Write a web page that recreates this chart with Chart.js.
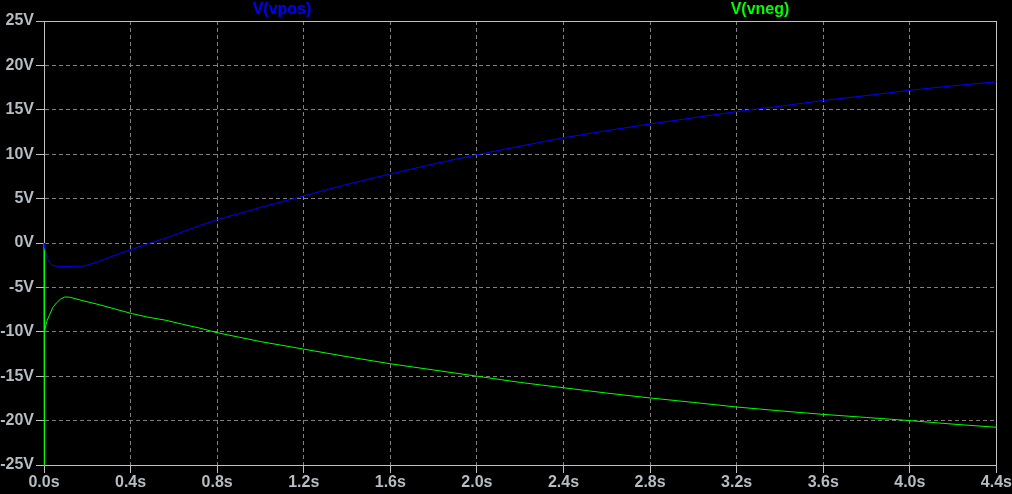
<!DOCTYPE html>
<html>
<head>
<meta charset="utf-8">
<script src="https://cdn.jsdelivr.net/npm/chart.js@4"></script>
<style>
  html, body { margin: 0; padding: 0; background: #000; }
  #wrap { width: 1012px; height: 494px; }
  canvas { background: #000; }
</style>
</head>
<body>
<div id="wrap"><canvas id="plot" width="1012" height="494"></canvas></div>
<script>
// time (s) and voltage (V)
const vposT = [0, 0.004, 0.01, 0.018, 0.028, 0.04, 0.055, 0.07, 0.12, 0.18, 0.22, 0.256, 0.33, 0.41, 0.48, 0.563, 0.64, 0.718, 0.8, 1.0, 1.2, 1.4, 1.6, 1.8, 2.0, 2.2, 2.4, 2.6, 2.8, 3.0, 3.2, 3.4, 3.6, 3.8, 4.0, 4.2, 4.4];
const vposV = [0, -0.6, -1.3, -1.9, -2.3, -2.52, -2.6, -2.63, -2.63, -2.6, -2.35, -2.05, -1.35, -0.68, -0.1, 0.56, 1.25, 1.95, 2.62, 4.0, 5.3, 6.6, 7.77, 8.9, 9.94, 10.9, 11.85, 12.65, 13.4, 14.1, 14.8, 15.4, 16.05, 16.6, 17.2, 17.7, 18.15];

const vnegT = [0, 0.0008, 0.003, 0.008, 0.015, 0.026, 0.04, 0.057, 0.075, 0.095, 0.118, 0.18, 0.256, 0.33, 0.408, 0.48, 0.563, 0.64, 0.717, 0.8, 1.0, 1.2, 1.4, 1.6, 1.8, 2.0, 2.2, 2.4, 2.6, 2.8, 3.0, 3.2, 3.4, 3.6, 3.8, 4.0, 4.2, 4.4];
const vnegV = [0, -30, -10.1, -9.3, -8.7, -8.07, -7.3, -6.76, -6.35, -6.08, -6.1, -6.5, -6.95, -7.45, -7.96, -8.35, -8.7, -9.15, -9.57, -10.1, -11.1, -11.95, -12.8, -13.6, -14.3, -15.0, -15.7, -16.3, -16.9, -17.45, -17.95, -18.47, -18.9, -19.3, -19.65, -20.0, -20.4, -20.75];

const xTicks = [0, 0.4, 0.8, 1.2, 1.6, 2.0, 2.4, 2.8, 3.2, 3.6, 4.0, 4.4];
const yTicks = [-25, -20, -15, -10, -5, 0, 5, 10, 15, 20, 25];

const FONT = { family: '"Liberation Sans", Arial, sans-serif', size: 16, weight: 'bold' };
const LABEL_COLOR = "#b4bcc4";
const traceLabelX = [282, 760];

const toPoints = (ts, vs) => ts.map((t, i) => ({ x: t, y: vs[i] }));

// box around the plot (under the traces) + trace names on top
const framePlugin = {
    id: "frame",
    beforeDatasetsDraw(chart) {
        const { ctx, chartArea: a } = chart;
        ctx.save();
        ctx.strokeStyle = "#c0c0c0";
        ctx.lineWidth = 1;
        ctx.setLineDash([]);
        const l = Math.round(a.left) + 0.5, t = Math.round(a.top) + 0.5;
        ctx.strokeRect(l, t, Math.round(a.right) - Math.round(a.left), Math.round(a.bottom) - Math.round(a.top));
        ctx.restore();
    },
    afterDraw(chart) {
        const ctx = chart.ctx;
        ctx.save();
        ctx.font = "bold 16px " + FONT.family;
        ctx.textAlign = "center";
        ctx.textBaseline = "middle";
        chart.data.datasets.forEach((ds, i) => {
            ctx.fillStyle = ds.borderColor;
            ctx.fillText(ds.label, traceLabelX[i], 10);
        });
        ctx.restore();
    }
};

const ctx = document.getElementById("plot").getContext("2d");

const plot = new Chart(ctx, {
    type: "line",
    data: {
        datasets: [
            { label: "V(vpos)", data: toPoints(vposT, vposV), borderColor: "#0000ff", borderWidth: 1, pointRadius: 0, tension: 0, clip: 1 },
            { label: "V(vneg)", data: toPoints(vnegT, vnegV), borderColor: "#00ff00", borderWidth: 1, pointRadius: 0, tension: 0, clip: 1 }
        ]
    },
    options: {
        responsive: false,
        animation: false,
        layout: { autoPadding: false, padding: { left: 0, right: 12, top: 21, bottom: 0 } },
        plugins: { legend: { display: false }, tooltip: { enabled: false } },
        scales: {
            x: {
                type: "linear",
                min: 0, max: 4.4,
                afterBuildTicks: s => { s.ticks = xTicks.map(v => ({ value: v })); },
                afterFit: s => { s.height = 29; },
                ticks: { color: LABEL_COLOR, font: FONT, padding: 0, maxRotation: 0, autoSkip: false,
                         callback: v => Number(v).toFixed(1) + "s" },
                grid: { color: "#808080", tickColor: "#c0c0c0", tickLength: 8 },
                border: { color: "#c0c0c0", dash: [4, 3] }
            },
            y: {
                type: "linear",
                min: -25, max: 25,
                afterBuildTicks: s => { s.ticks = yTicks.map(v => ({ value: v })); },
                afterFit: s => { s.width = 44; },
                ticks: { color: LABEL_COLOR, font: FONT, padding: 2, autoSkip: false,
                         callback: v => v + "V" },
                grid: { color: "#808080", tickColor: "#c0c0c0", tickLength: 8 },
                border: { color: "#c0c0c0", dash: [4, 3] }
            }
        }
    },
    plugins: [framePlugin]
});
</script>
</body>
</html>
